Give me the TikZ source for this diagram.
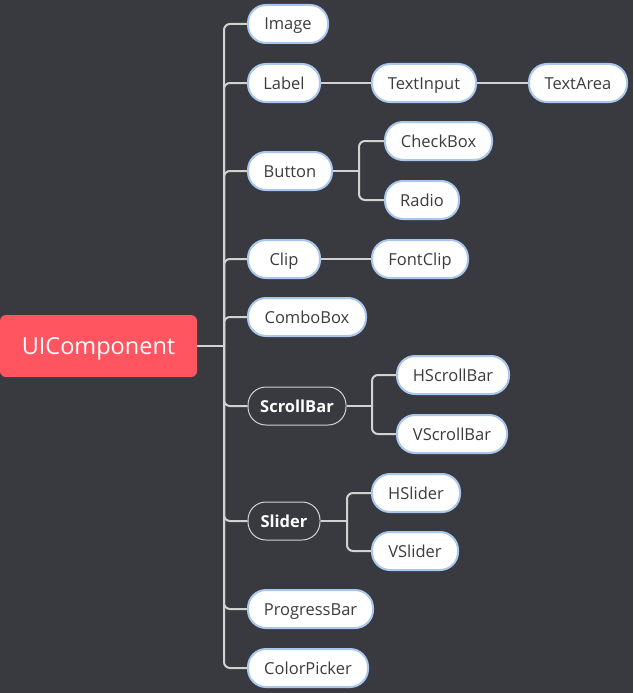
\documentclass[tikz,border=0pt]{standalone}
\usepackage{fontspec}
\setmainfont{Open Sans}
\definecolor{bg}{HTML}{383A3F}
\definecolor{rootc}{HTML}{FF5561}
\definecolor{nodeb}{HTML}{A9C7EE}
\definecolor{conn}{HTML}{D2D2D2}
\definecolor{txt}{HTML}{3C3C3C}
\begin{document}
\begin{tikzpicture}[x=1pt,y=-1pt,
  base/.style={rounded corners=18pt, minimum height=38pt, inner xsep=0pt,
    text height=14pt, text depth=2pt, font=\fontsize{16.5}{18}\selectfont},
  leaf/.style={base, draw=nodeb, line width=2pt, fill=white, text=txt},
  darkn/.style={base, draw=conn, line width=1pt, fill=bg, text=white,
    font=\fontsize{16.5}{18}\selectfont\bfseries},
  rootn/.style={fill=rootc, rounded corners=6pt, minimum width=197pt, minimum height=62pt,
    text=white, text height=20pt, text depth=3pt, font=\fontsize{23.5}{26}\selectfont},
  link/.style={draw=conn, line width=2pt, rounded corners=6pt}]
\fill[bg] (0,0) rectangle (633,693);
\useasboundingbox (0,0) rectangle (633,693);

\node[rootn] (root) at (98.5,346) {UIComponent};

\node[leaf, minimum width=80pt] (image) at (288,24) {Image};
\node[leaf, minimum width=72pt] (label) at (284,83) {Label};
\node[leaf, minimum width=104pt] (textinput) at (424,83) {TextInput};
\node[leaf, minimum width=98pt] (textarea) at (578,83) {TextArea};
\node[leaf, minimum width=84pt] (button) at (290,171) {Button};
\node[leaf, minimum width=107pt] (checkbox) at (438.5,141) {CheckBox};
\node[leaf, minimum width=74pt] (radio) at (422,200) {Radio};
\node[leaf, minimum width=72pt] (clip) at (284,259) {Clip};
\node[leaf, minimum width=96pt] (fontclip) at (420,259) {FontClip};
\node[leaf, minimum width=118pt] (combobox) at (307,317) {ComboBox};
\node[darkn, minimum width=98pt] (scrollbar) at (297,406) {ScrollBar};
\node[leaf, minimum width=112pt] (hscroll) at (453,375) {HScrollBar};
\node[leaf, minimum width=110pt] (vscroll) at (452,434) {VScrollBar};
\node[darkn, minimum width=72pt] (slider) at (284,521) {Slider};
\node[leaf, minimum width=88pt] (hslider) at (416,493) {HSlider};
\node[leaf, minimum width=86pt] (vslider) at (415,551) {VSlider};
\node[leaf, minimum width=125pt] (progress) at (310.5,609) {ProgressBar};
\node[leaf, minimum width=120pt] (color) at (308,668) {ColorPicker};

\coordinate (j0) at (224,346);
\draw[link] (root.east) -- (j0);
\foreach \n in {image,label,button,clip,combobox,scrollbar,slider,progress,color}
  \draw[link] (j0) |- (\n.west);

\draw[link] (label) -- (textinput);
\draw[link] (textinput) -- (textarea);
\draw[link] (clip) -- (fontclip);

\coordinate (j1) at (359,171);
\draw[link] (button.east) -- (j1);
\draw[link] (j1) |- (checkbox.west);
\draw[link] (j1) |- (radio.west);

\coordinate (j2) at (372,406);
\draw[link] (scrollbar.east) -- (j2);
\draw[link] (j2) |- (hscroll.west);
\draw[link] (j2) |- (vscroll.west);

\coordinate (j3) at (347,521);
\draw[link] (slider.east) -- (j3);
\draw[link] (j3) |- (hslider.west);
\draw[link] (j3) |- (vslider.west);
\end{tikzpicture}
\end{document}
